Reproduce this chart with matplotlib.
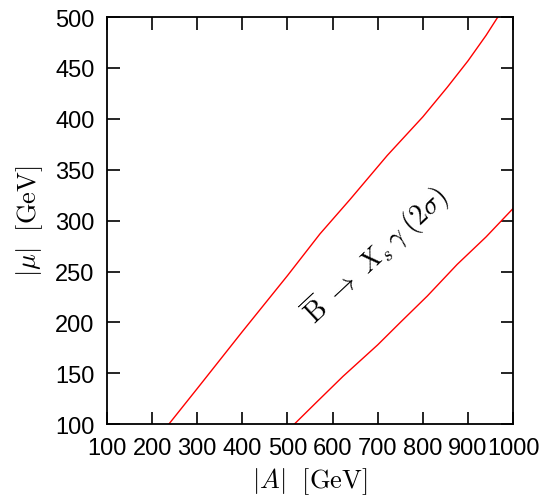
import matplotlib
matplotlib.use('Agg')
import matplotlib.pyplot as plt

plt.rcParams['font.family'] = ['Liberation Sans', 'DejaVu Sans']
plt.rcParams['mathtext.fontset'] = 'cm'

# upper boundary of the 2 sigma band
a_upper = [237, 300, 400, 500, 572, 639, 721, 800, 854, 900, 940, 966]
mu_upper = [100, 135, 191, 246, 287, 321, 364, 402, 431, 457, 482, 500]

# lower boundary
a_lower = [515, 563, 623, 700, 750, 810, 876, 940, 1000]
mu_lower = [100, 121, 147, 178, 200, 226, 257, 284, 312]

xticks = [100, 200, 300, 400, 500, 600, 700, 800, 900, 1000]
yticks = [100, 150, 200, 250, 300, 350, 400, 450, 500]

fig = plt.figure(figsize=(5.43, 5.02), dpi=100)
ax = fig.add_axes([0.197, 0.153, 0.748, 0.811])

ax.plot(a_upper, mu_upper, color='red', lw=1)
ax.plot(a_lower, mu_lower, color='red', lw=1)

ax.set_xlim(100, 1000)
ax.set_ylim(100, 500)
ax.set_xticks(xticks)
ax.set_yticks(yticks)
ax.tick_params(direction='in', length=9, width=1.2, top=True, right=True, labelsize=17, pad=9)
for s in ax.spines.values():
    s.set_linewidth(1.3)

ax.set_xlabel(r'$|A|\ \ [\mathrm{GeV}]$', fontsize=19, labelpad=5)
ax.set_ylabel(r'$|\mu|\ \ [\mathrm{GeV}]$', fontsize=19, labelpad=7)

ax.text(696, 267, r'$\overline{\mathrm{B}}\ \rightarrow\ X_s\,\gamma\ (2\sigma)$', fontsize=20,
        rotation=43, ha='center', va='center')

fig.savefig('out.png', dpi=100)
